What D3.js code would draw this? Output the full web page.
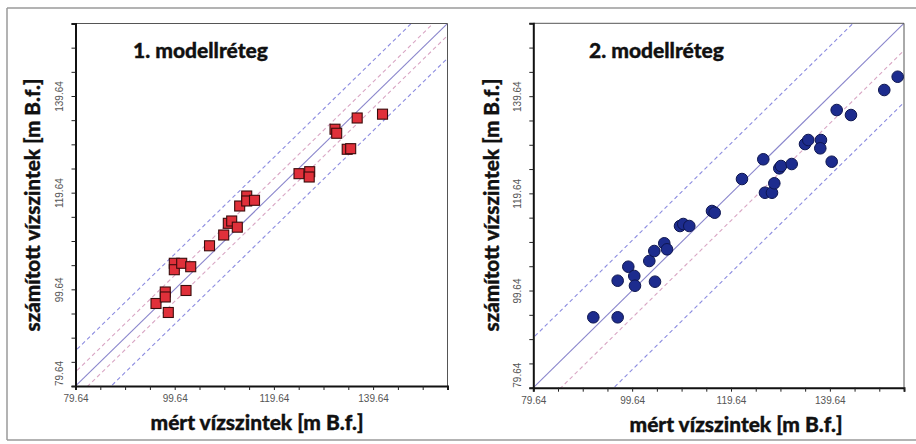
<!DOCTYPE html>
<html>
<head>
<meta charset="utf-8">
<script src="https://cdn.jsdelivr.net/npm/d3@7"></script>
<style>
  html, body { margin: 0; padding: 0; background: #fff; }
  svg { display: block; }
</style>
</head>
<body>
<svg id="chart" width="916" height="444"></svg>
<script>
// ---- data ----
const axisDomain = [79.64, 154.64];
const majorTicks = [79.64, 99.64, 119.64, 139.64];
const minorTicks = [79.64, 84.64, 89.64, 94.64, 99.64, 104.64, 109.64, 114.64, 119.64,
                    124.64, 129.64, 134.64, 139.64, 144.64, 149.64, 154.64];

const titles = ["1. modellréteg", "2. modellréteg"];
const xLabel = "mért vízszintek [m B.f.]";
const yLabel = "számított vízszintek [m B.f.]";

// layer 1: measured (x) vs computed (y)
const layer1Measured = [95.87, 97.74, 97.74, 98.35, 101.92, 99.56, 99.56, 101.05, 102.87, 106.66,
  109.52, 110.45, 111.13, 112.26, 112.74, 114.16, 114.16, 115.73, 124.70, 126.86, 126.76,
  131.96, 132.30, 134.42, 135.12, 136.43, 141.54];
const layer1Computed = [96.71, 99.09, 98.06, 94.85, 99.40, 105.03, 103.70, 105.03, 104.32, 108.65,
  110.88, 113.30, 113.78, 112.50, 116.88, 118.95, 117.92, 118.06, 123.57, 123.98, 122.88,
  132.77, 131.93, 128.62, 128.74, 135.09, 135.88];
// reference line offsets (computed - measured) for layer 1
const layer1LineOffsets = [0, 7.3, -7.2, 2.9, -2.5];
const layer1LineKinds   = ["solid", "blue", "blue", "pink", "pink"];

// layer 2
const layer2Measured = [91.78, 96.71, 96.71, 98.86, 100.07, 100.21, 103.11, 104.12, 104.26, 106.14,
  106.69, 109.32, 109.99, 111.20, 115.79, 116.34, 121.86, 126.17, 126.51, 127.93, 128.40,
  129.41, 129.75, 131.92, 134.61, 135.27, 137.84, 137.70, 140.01, 141.02, 143.91, 150.65, 153.36];
const layer2Computed = [94.13, 94.13, 101.66, 104.54, 102.63, 100.63, 105.72, 107.77, 101.46, 109.36,
  108.12, 112.92, 113.33, 112.92, 116.01, 115.66, 122.59, 126.65, 119.77, 119.77, 121.71,
  124.79, 125.27, 125.68, 129.79, 130.62, 130.62, 128.91, 126.15, 136.79, 135.76, 140.91, 143.64];
const layer2LineOffsets = [0, 10.3, -16.3, -5.6];
const layer2LineKinds   = ["solid", "blue", "blue", "pink"];

// ---- drawing ----
const svg = d3.select("#chart");
const fontTitle = "Lato, 'Open Sans', sans-serif";
const fontTick = "'Liberation Sans', Arial, sans-serif";

// outer frame
const frame = svg.append("g").attr("stroke", "#9a9a9a").attr("stroke-width", 1.5).attr("fill", "none");
frame.append("line").attr("x1", 7).attr("y1", 8).attr("x2", 916).attr("y2", 8);
frame.append("line").attr("x1", 7).attr("y1", 8).attr("x2", 7).attr("y2", 440);
frame.append("line").attr("x1", 7).attr("y1", 440).attr("x2", 916).attr("y2", 440);

const lineStyle = {
  solid: { stroke: "#8a86cc", dash: null, width: 1.1 },
  blue:  { stroke: "#8c8ce0", dash: "4,3", width: 1.1 },
  pink:  { stroke: "#d9a6c4", dash: "4,3", width: 1.1 }
};

function boldText(sel) {
  return sel.attr("font-family", fontTitle).attr("font-weight", 900)
    .attr("fill", "#111").attr("stroke", "#111").attr("stroke-width", 0.35)
    .attr("lengthAdjust", "spacingAndGlyphs");
}

function drawPanel(cfg) {
  const x = d3.scaleLinear().domain(axisDomain).range([cfg.left, cfg.right]);
  const y = d3.scaleLinear().domain(axisDomain).range([cfg.bottom, cfg.top]);
  const g = svg.append("g");

  const clipId = "clip" + cfg.id;
  svg.append("clipPath").attr("id", clipId).append("rect")
    .attr("x", cfg.left).attr("y", cfg.top)
    .attr("width", cfg.right - cfg.left).attr("height", cfg.bottom - cfg.top);

  // reference lines
  const lg = g.append("g").attr("clip-path", `url(#${clipId})`);
  const ext = [axisDomain[0] - 30, axisDomain[1] + 30];
  cfg.offsets.forEach((o, i) => {
    const st = lineStyle[cfg.kinds[i]];
    lg.append("line")
      .attr("x1", x(ext[0])).attr("y1", y(ext[0] + o))
      .attr("x2", x(ext[1])).attr("y2", y(ext[1] + o))
      .attr("stroke", st.stroke).attr("stroke-width", st.width)
      .attr("stroke-dasharray", st.dash);
  });

  // plot border top/right
  g.append("path")
    .attr("d", `M${cfg.left},${cfg.top}H${cfg.right}V${cfg.bottom}`)
    .attr("fill", "none").attr("stroke", "#555").attr("stroke-width", 1);

  // axes: minor ticks
  const xMinor = g.append("g").attr("transform", `translate(0,${cfg.bottom})`)
    .call(d3.axisBottom(x).tickValues(minorTicks).tickSize(4).tickFormat(""));
  const yMinor = g.append("g").attr("transform", `translate(${cfg.left},0)`)
    .call(d3.axisLeft(y).tickValues(minorTicks).tickSize(4).tickFormat(""));
  [xMinor, yMinor].forEach(a => {
    a.select(".domain").attr("stroke", "#111").attr("stroke-width", 2);
    a.selectAll(".tick line").attr("stroke", "#222").attr("stroke-width", 1);
  });

  // major tick labels
  const xMajor = g.append("g").attr("transform", `translate(0,${cfg.bottom})`)
    .call(d3.axisBottom(x).tickValues(majorTicks).tickSize(0).tickPadding(9).tickFormat(d3.format(".2f")));
  xMajor.select(".domain").remove();
  xMajor.selectAll("text").attr("font-family", fontTick).attr("font-size", 10).attr("fill", "#555");

  const yMajor = g.append("g").attr("transform", `translate(${cfg.left},0)`)
    .call(d3.axisLeft(y).tickValues(majorTicks).tickSize(0).tickFormat(d3.format(".2f")));
  yMajor.select(".domain").remove();
  yMajor.selectAll("text")
    .attr("font-family", fontTick).attr("font-size", 10).attr("fill", "#555")
    .attr("x", null).attr("dy", null)
    .attr("text-anchor", "middle")
    .attr("transform", (d, i) => `translate(-12.5,${i === 0 ? -13 : 0}) rotate(-90)`);

  // markers
  const mg = g.append("g");
  const pts = cfg.xs.map((v, i) => [v, cfg.ys[i]]);
  if (cfg.marker === "square") {
    mg.selectAll("rect").data(pts).join("rect")
      .attr("x", d => x(d[0]) - 5).attr("y", d => y(d[1]) - 5)
      .attr("width", 10).attr("height", 10)
      .attr("fill", "#e0303a").attr("stroke", "#3a0c0c").attr("stroke-width", 1.1);
  } else {
    mg.selectAll("circle").data(pts).join("circle")
      .attr("cx", d => x(d[0])).attr("cy", d => y(d[1])).attr("r", 5.8)
      .attr("fill", "#1d2c8e").attr("stroke", "#0e1650").attr("stroke-width", 1);
  }

  // title
  boldText(g.append("text").text(cfg.title)
    .attr("x", cfg.titleX).attr("y", 58)
    .attr("font-size", 21).attr("textLength", 135));

  // axis titles
  boldText(g.append("text").text(xLabel)
    .attr("x", cfg.xLabelX).attr("y", cfg.xLabelY)
    .attr("text-anchor", "middle")
    .attr("font-size", 21).attr("textLength", 213));
  boldText(g.append("text").text(yLabel)
    .attr("transform", `translate(${cfg.yLabelX},205) rotate(-90)`)
    .attr("text-anchor", "middle")
    .attr("font-size", 21).attr("textLength", 253));
}

drawPanel({
  id: 1, left: 75.5, right: 447.5, top: 23.5, bottom: 386,
  xs: layer1Measured, ys: layer1Computed, marker: "square",
  offsets: layer1LineOffsets, kinds: layer1LineKinds,
  title: titles[0], titleX: 133,
  xLabelX: 257, xLabelY: 430, yLabelX: 40
});
drawPanel({
  id: 2, left: 533.3, right: 904, top: 23.3, bottom: 387.7,
  xs: layer2Measured, ys: layer2Computed, marker: "circle",
  offsets: layer2LineOffsets, kinds: layer2LineKinds,
  title: titles[1], titleX: 589,
  xLabelX: 736, xLabelY: 432, yLabelX: 499
});
</script>
</body>
</html>
